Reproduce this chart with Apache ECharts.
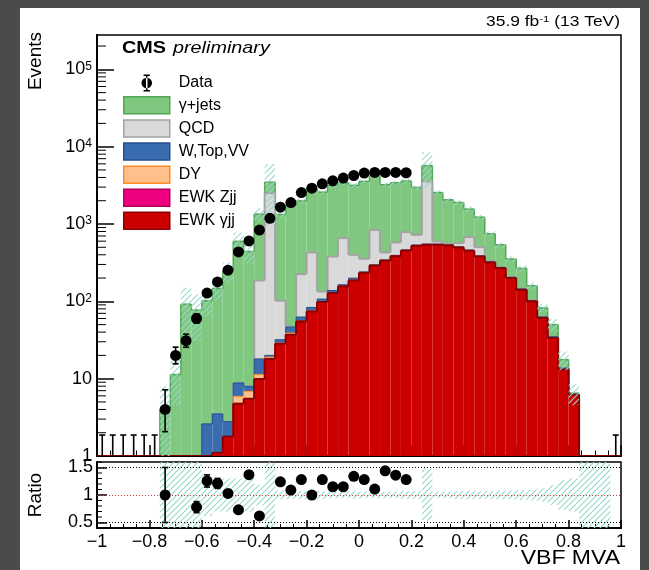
<!DOCTYPE html>
<html><head><meta charset="utf-8">
<script src="https://cdn.jsdelivr.net/npm/echarts@6/dist/echarts.min.js"></script>
<style>html,body{margin:0;padding:0;background:#fff;}#c{position:absolute;left:0;top:0;width:649px;height:570px;}</style>
</head><body><div id="c"></div>
<script>
// ---------- binning ----------
const xMin = -1, xMax = 1, nBins = 50;
const binW = (xMax - xMin) / nBins;
const yMin = 1, yMax = 2.78e5;
const rMin = 0.4, rMax = 1.6;

// ---------- data (events per bin, null = blinded) ----------
const dataCounts = [0,0,0,0,0,0,4,20,31,60,128,178,253,436,604,834,1186,1648,1892,2546,2905,3306,3615,3924,4240,4550,4650,4650,4650,4600,
  null,null,null,null,null,null,null,null,null,null,null,null,null,null,null,null,null,null,null,0];

// ---------- MC stack (bottom -> top) ----------
const ewkGjj = [0,0,0,0,0,0,0,0,0,0,0,1.1,1.78,4.75,5.5,9.9,18,28.3,37,55,74,98,128,156,186,234,290,336,384,453,
  523,539,539,528,497,451,380,318,269,200,141,100,61,33.6,13.1,6.2,0.5,0.3,0.15,0];
const ewkZjj = [0,0,0,0,0,0,0,0,0,0,0,0,0,0,0,0.1,0.1,0.1,0.2,0.2,0.3,0.3,0.4,0.5,0.6,0.7,0.8,1,1,1,
  1,1,1,1,1,1,1,1,0.5,0.5,0.5,0.3,0.2,0.1,0.05,0,0,0,0,0];
const dy = [0,0,0,0,0,0,0,0,0,0,0,0,0,1.15,1.36,1.3,0.9,0.5,1.7,0.5,1.0,0.5,1.0,1.0,1.0,1.2,1.5,1.5,2,2,
  2.5,2,2,2,2,2,1.5,1,1,0.5,0.5,0.3,0.2,0.1,0.05,0,0,0,0,0];
const wTopVV = [0,0,0,0,0,0,0,0,0,0,2.6,2.4,1.0,2.9,1.1,6.7,1.0,3.0,7.6,7.0,8.1,8.2,8.6,6.5,12,4.1,5,5,6,7,
  8,8,8,8,7,7,6,5,4,3.5,2.5,2,1.5,1,0.5,0.1,0,0,0,0];
const qcd = [0,0,0,0,0,0,0,0,0,0,0,0,0,0,0,168,2487,70,1,162,345,27,242,493,200,115,540,85,184,322,
  190,2990,44,10,59,216,115,5,2,1,1,0.5,0.3,0.2,0,0,0,0,0,0];
const gjets = [0,0,0,0,0,0,4,11.3,92,77,99.4,143.5,243,588,433,1159,970,1227,1688,1764,2477,2449,2763,2755,2764,3200,3363,2801,2842,2809,
  2240,2160,1958,1506,1330,883,724,417,262,147,121,56,19,15,3.9,0.2,0,0,0,0];
// relative MC uncertainty per bin
const mcRelUnc = [0,0,0,0,0,0,1.0,0.6,0.63,0.6,0.38,0.3,0.3,0.3,0.3,0.19,0.72,0.08,0.07,0.07,0.06,0.07,0.06,0.06,0.07,0.06,0.06,0.06,0.06,0.07,
  0.07,0.48,0.06,0.06,0.07,0.08,0.07,0.07,0.08,0.08,0.09,0.1,0.12,0.18,0.27,0.3,1,1,1,0];

// ---------- axis ticks ----------
const yMajorTicks = [1,10,100,1000,10000,100000];
const yMinorTicks = [];
yMajorTicks.forEach(d => { for (let k = 2; k <= 9; k++) if (k*d < yMax) yMinorTicks.push(k*d); });
const ratioLabelTicks = [0.5, 1, 1.5];
const ratioMinorTicks = [0.4,0.6,0.7,0.8,0.9,1.1,1.2,1.3,1.4,1.6];

const layers = [
  {name:'EWK γjj',  vals:ewkGjj, fill:'#cc0000', line:'#8a0000', lw:2},
  {name:'EWK Zjj',  vals:ewkZjj, fill:'#ee0080', line:'#b3005f', lw:1},
  {name:'DY',       vals:dy,     fill:'#ffc08c', line:'#ff8a1f', lw:1},
  {name:'W,Top,VV', vals:wTopVV, fill:'#3a6cb0', line:'#24508c', lw:1},
  {name:'QCD',      vals:qcd,    fill:'#d9d9d9', line:'#a3a3a3', lw:2},
  {name:'γ+jets',   vals:gjets,  fill:'#80c880', line:'#52a552', lw:1.5}
];
const cum = [new Array(nBins).fill(0)];
layers.forEach((L, k) => cum.push(L.vals.map((v, i) => cum[k][i] + v)));
const mcTotal = cum[layers.length];

const FONT = '"Liberation Sans", Arial, Helvetica, sans-serif';
const hatchColor = '#95d9cb';
function makeHatch() {
  const c = document.createElement('canvas'); c.width = 6; c.height = 6;
  const g = c.getContext('2d'); g.strokeStyle = hatchColor; g.lineWidth = 1.1;
  g.beginPath(); g.moveTo(-1, 7); g.lineTo(7, -1); g.stroke();
  g.beginPath(); g.moveTo(-1, 1); g.lineTo(1, -1); g.stroke();
  g.beginPath(); g.moveTo(5, 7); g.lineTo(7, 5); g.stroke();
  return c;
}
const hatchPattern = {image: makeHatch(), repeat: 'repeat'};

const series = [];
// stacked layers: top layer first so lower outlines are drawn over
for (let k = layers.length - 1; k >= 0; k--) {
  const L = layers[k];
  series.push({
    type: 'custom', name: L.name, xAxisIndex: 0, yAxisIndex: 0, clip: true,
    itemStyle: {color: L.fill},
    data: L.vals.map((v, i) => [xMin + i*binW, xMin + (i+1)*binW, cum[k][i], cum[k+1][i], i > 0 ? cum[k+1][i-1] : 0]),
    renderItem: (params, api) => {
      const lo = Math.max(api.value(2), yMin), hi = Math.max(api.value(3), yMin), ph = Math.max(api.value(4), yMin);
      const a = api.coord([api.value(0), lo]), b = api.coord([api.value(1), hi]), p = api.coord([api.value(0), ph]);
      const ch = [];
      if (a[1] - b[1] > 0.01) ch.push({type:'rect', shape:{x:a[0], y:b[1], width:b[0]-a[0], height:a[1]-b[1]}, style:{fill:L.fill}});
      ch.push({type:'line', shape:{x1:a[0], y1:b[1], x2:b[0], y2:b[1]}, style:{stroke:L.line, lineWidth:L.lw}});
      ch.push({type:'line', shape:{x1:a[0], y1:p[1], x2:a[0], y2:b[1]}, style:{stroke:L.line, lineWidth:L.lw}});
      return {type:'group', children:ch};
    }
  });
}
// MC uncertainty band (main)
series.push({
  type:'custom', name:'unc', xAxisIndex:0, yAxisIndex:0, clip:true, silent:true,
  data: mcTotal.map((t, i) => [xMin + i*binW, xMin + (i+1)*binW, t*(1 - mcRelUnc[i]), t*(1 + mcRelUnc[i])]),
  renderItem: (params, api) => {
    const hi = api.value(3); if (!(hi > yMin)) return null;
    const lo = Math.max(api.value(2), yMin);
    const a = api.coord([api.value(0), lo]), b = api.coord([api.value(1), hi]);
    return {type:'rect', shape:{x:a[0], y:b[1], width:b[0]-a[0], height:a[1]-b[1]}, style:{fill:hatchPattern}};
  }
});
// minor tick marks (log y axis, ratio y axis) drawn through the axes' scales
function minorTickSeries(xi, yi, vals, len) {
  return {type:'custom', xAxisIndex:xi, yAxisIndex:yi, silent:true, z:6, data: vals.map(v => [xMin, v]),
    renderItem: (params, api) => { const c = api.coord([api.value(0), api.value(1)]);
      return {type:'line', shape:{x1:c[0], y1:c[1], x2:c[0] + len, y2:c[1]}, style:{stroke:'#000', lineWidth:1}}; }};
}
series.push(minorTickSeries(0, 0, yMinorTicks, 9));
series.push(minorTickSeries(1, 1, ratioMinorTicks, 5));
// data error bars (main)
const centers = dataCounts.map((_, i) => xMin + (i + 0.5)*binW);
const dataErr = [];
dataCounts.forEach((n, i) => { if (n !== null) dataErr.push([centers[i], n > 0 ? n - Math.sqrt(n - 0.25) : 0, n + 1 + Math.sqrt(n + 0.75)]); });
function errBarRender(ymin) {
  return (params, api) => {
    const x = api.value(0), lo = api.value(1), hi = api.value(2);
    const top = api.coord([x, hi]), bot = api.coord([x, Math.max(lo, ymin)]);
    const ch = [{type:'line', shape:{x1:top[0], y1:top[1], x2:bot[0], y2:bot[1]}, style:{stroke:'#000', lineWidth:1.6}},
                {type:'line', shape:{x1:top[0]-3, y1:top[1], x2:top[0]+3, y2:top[1]}, style:{stroke:'#000', lineWidth:1.6}}];
    if (lo >= ymin) ch.push({type:'line', shape:{x1:bot[0]-3, y1:bot[1], x2:bot[0]+3, y2:bot[1]}, style:{stroke:'#000', lineWidth:1.6}});
    return {type:'group', children:ch};
  };
}
series.push({type:'custom', name:'dataErr', xAxisIndex:0, yAxisIndex:0, clip:true, silent:true, data:dataErr, renderItem: errBarRender(yMin)});
series.push({
  type:'scatter', name:'Data', xAxisIndex:0, yAxisIndex:0, symbol:'circle', symbolSize:11, silent:true,
  itemStyle:{color:'#000', opacity:1}, z:5,
  data: dataCounts.map((n, i) => (n !== null && n > 0) ? [centers[i], n] : null).filter(d => d)
});
// ratio panel: uncertainty band
series.push({
  type:'custom', name:'ratioUnc', xAxisIndex:1, yAxisIndex:1, clip:true, silent:true,
  data: mcTotal.map((t, i) => [xMin + i*binW, xMin + (i+1)*binW, t > 0 ? 1 - mcRelUnc[i] : 1, t > 0 ? 1 + mcRelUnc[i] : 1]),
  renderItem: (params, api) => {
    if (api.value(3) - api.value(2) <= 0) return null;
    const a = api.coord([api.value(0), Math.max(api.value(2), rMin)]), b = api.coord([api.value(1), Math.min(api.value(3), rMax)]);
    return {type:'rect', shape:{x:a[0], y:b[1], width:b[0]-a[0], height:a[1]-b[1]}, style:{fill:hatchPattern}};
  },
  markLine: {
    silent:true, symbol:'none', label:{show:false},
    data: [
      {yAxis:1.5, lineStyle:{color:'#000', type:[1,2], width:1}},
      {yAxis:1.0, lineStyle:{color:'#d23c3c', type:[1,2], width:1}},
      {yAxis:0.5, lineStyle:{color:'#000', type:[1,2], width:1}}
    ]
  }
});
// ratio points
const ratioPts = [], ratioErr = [];
dataCounts.forEach((n, i) => {
  if (n === null || n <= 0 || !(mcTotal[i] > 0)) return;
  const r = n / mcTotal[i], e = Math.sqrt(n) / mcTotal[i];
  if (r < rMin || r > rMax) return;
  ratioPts.push([centers[i], r]);
  ratioErr.push([centers[i], r - e, r + e]);
});
series.push({type:'custom', name:'ratioErr', xAxisIndex:1, yAxisIndex:1, clip:true, silent:true, data:ratioErr, renderItem: errBarRender(rMin)});
series.push({type:'scatter', name:'ratio', xAxisIndex:1, yAxisIndex:1, symbol:'circle', symbolSize:11, silent:true, z:5,
  itemStyle:{color:'#000', opacity:1}, data: ratioPts});

const fmtX = v => { const r = Math.round(v*10)/10; return r < 0 ? '−' + Math.abs(r) : String(r); };
const option = {
  animation: false,
  backgroundColor: '#fff',
  textStyle: {fontFamily: FONT},
  grid: [
    {left:97, top:35, width:524, height:421, show:true, borderColor:'#000', borderWidth:1.5, backgroundColor:'transparent'},
    {left:97, top:462, width:524, height:66, show:true, borderColor:'#000', borderWidth:1.5, backgroundColor:'transparent'}
  ],
  xAxis: [
    {type:'value', gridIndex:0, min:xMin, max:xMax, interval:0.2,
     axisLine:{onZero:false, lineStyle:{color:'#000', width:2}}, axisLabel:{show:false},
     axisTick:{inside:true, length:11, lineStyle:{color:'#000', width:1.5}},
     minorTick:{show:true, splitNumber:4, length:5.5, lineStyle:{color:'#000', width:1}},
     splitLine:{show:false}},
    {type:'value', gridIndex:1, min:xMin, max:xMax, interval:0.2,
     axisLine:{onZero:false, lineStyle:{color:'#000', width:2}},
     axisLabel:{formatter:fmtX, color:'#000', fontSize:18, margin:5, fontFamily:FONT},
     axisTick:{inside:true, length:8, lineStyle:{color:'#000', width:1.5}},
     minorTick:{show:true, splitNumber:4, length:4, lineStyle:{color:'#000', width:1}},
     splitLine:{show:false}}
  ],
  yAxis: [
    {type:'log', gridIndex:0, min:yMin, max:yMax, logBase:10,
     axisLine:{onZero:false, lineStyle:{color:'#000', width:2}},
     axisTick:{inside:true, length:17, customValues:yMajorTicks, lineStyle:{color:'#000', width:1.5}},
     axisLabel:{customValues:yMajorTicks, margin:5, color:'#000', fontFamily:FONT,
       formatter: v => { const e = Math.round(Math.log10(v)); return e === 0 ? '{b|1}' : e === 1 ? '{b|10}' : '{b|10}{s|' + e + '}'; },
       rich:{b:{fontSize:18, fontFamily:FONT, color:'#000', verticalAlign:'bottom'}, s:{fontSize:12, fontFamily:FONT, color:'#000', verticalAlign:'top'}}},
     splitLine:{show:false}},
    {type:'value', gridIndex:1, min:rMin, max:rMax,
     axisLine:{onZero:false, lineStyle:{color:'#000', width:2}},
     axisTick:{inside:true, length:10, customValues:ratioLabelTicks, lineStyle:{color:'#000', width:1.5}},
     axisLabel:{customValues:ratioLabelTicks, margin:4, color:'#000', fontSize:18, fontFamily:FONT, formatter: v => String(v)},
     splitLine:{show:false}}
  ],
  legend: {
    orient:'vertical', left:123, top:74.5, padding:0, itemGap:4.6, itemWidth:46, itemHeight:17,
    textStyle:{fontSize:16, fontFamily:FONT, color:'#000', padding:[0,0,0,4]},
    selectedMode:false,
    data: [
      {name:'Data', icon:'path://M4.3,0h1.4v16h-1.4z M2,0h6v1.4h-6z M2,14.6h6v1.4h-6z M0,8a5,5 0 1,0 10,0a5,5 0 1,0 -10,0z', itemStyle:{color:'#000', opacity:1, borderWidth:0}},
      {name:'γ+jets', icon:'rect', itemStyle:{color:'#80c880', borderColor:'#52a552', borderWidth:1.5}},
      {name:'QCD', icon:'rect', itemStyle:{color:'#d9d9d9', borderColor:'#a3a3a3', borderWidth:1.5}},
      {name:'W,Top,VV', icon:'rect', itemStyle:{color:'#3a6cb0', borderColor:'#24508c', borderWidth:1.5}},
      {name:'DY', icon:'rect', itemStyle:{color:'#ffc08c', borderColor:'#ff8a1f', borderWidth:1.5}},
      {name:'EWK Zjj', icon:'rect', itemStyle:{color:'#ee0080', borderColor:'#b3005f', borderWidth:1.5}},
      {name:'EWK γjj', icon:'rect', itemStyle:{color:'#cc0000', borderColor:'#8a0000', borderWidth:1.5}}
    ]
  },
  graphic: [
    {type:'rect', shape:{x:0, y:0, width:649, height:8}, style:{fill:'#4b4b4b'}, silent:true},
    {type:'rect', shape:{x:0, y:0, width:20, height:570}, style:{fill:'#4b4b4b'}, silent:true},
    {type:'rect', shape:{x:640, y:0, width:9, height:570}, style:{fill:'#4b4b4b'}, silent:true},
    {type:'text', x:122, y:57, scaleX:1.2, style:{text:'CMS', font:'bold 16.5px ' + FONT, fill:'#000', verticalAlign:'bottom'}},
    {type:'text', x:173, y:57, scaleX:1.2, style:{text:'preliminary', font:'italic 16.5px ' + FONT, fill:'#000', verticalAlign:'bottom'}},
    {type:'text', x:620, y:29, scaleX:1.2, style:{text:'35.9 fb{s|-1} (13 TeV)', fontSize:14.5, fontFamily:FONT, fill:'#000', align:'right', verticalAlign:'bottom',
      rich:{s:{fontSize:9.5, fontFamily:FONT, verticalAlign:'top'}}}},
    {type:'text', x:620, y:568, scaleX:1.15, style:{text:'VBF MVA', fontSize:20, fontFamily:FONT, fill:'#000', align:'right', verticalAlign:'bottom'}},
    {type:'text', x:36, y:32, rotation:Math.PI/2, style:{text:'Events', fontSize:19, fontFamily:FONT, fill:'#000', align:'right', verticalAlign:'middle'}},
    {type:'text', x:36, y:495, rotation:Math.PI/2, style:{text:'Ratio', fontSize:19, fontFamily:FONT, fill:'#000', align:'center', verticalAlign:'middle'}}
  ],
  series: series
};
const chart = echarts.init(document.getElementById('c'), null, {renderer:'canvas'});
chart.setOption(option);
</script></body></html>
